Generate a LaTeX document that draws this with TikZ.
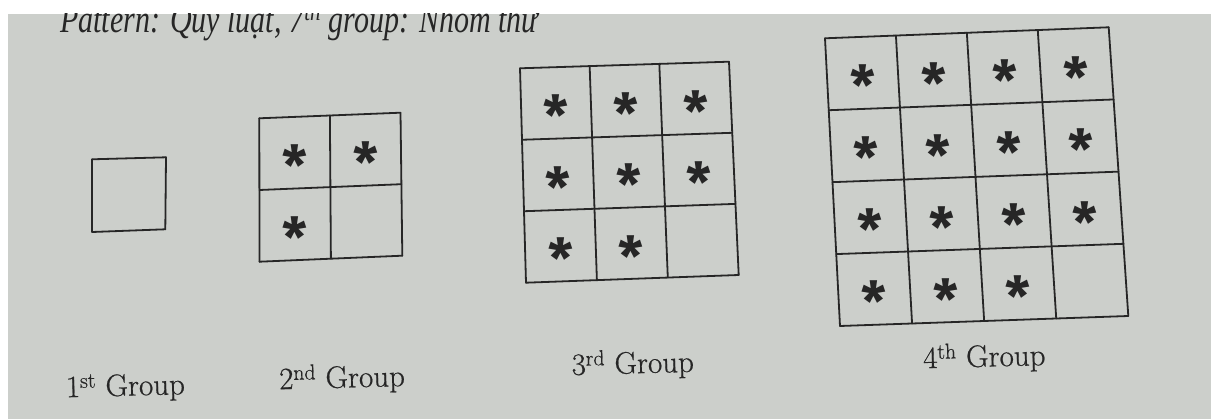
\documentclass[tikz,border=0pt]{standalone}
\usepackage{fontspec}
\usetikzlibrary{calc}
\definecolor{paper}{RGB}{204,207,203}
\definecolor{ink}{RGB}{38,38,38}
\newfontfamily\topfont{Liberation Serif}
\newfontfamily\astfont{Fira Sans}
\newfontfamily\lblfont{Latin Modern Roman}[FakeBold=0.6]
\newcommand\patterngrid[7]{%
  \coordinate (#1tl) at #3;
  \coordinate (#1tr) at #4;
  \coordinate (#1bl) at #5;
  \coordinate (#1br) at #6;
  \foreach \i in {0,...,#2}{
    \draw[gridline] ($(#1tl)!\i/#2!(#1tr)$) -- ($(#1bl)!\i/#2!(#1br)$);
    \draw[gridline] ($(#1tl)!\i/#2!(#1bl)$) -- ($(#1tr)!\i/#2!(#1br)$);
  }
  \foreach \r in {1,...,#2}{
    \foreach \c in {1,...,#2}{
      \pgfmathtruncatemacro\islast{and(\r==#2,\c==#2)}
      \ifnum\islast=0
        \pgfmathsetmacro\uu{(\c-0.5)/#2}
        \pgfmathsetmacro\vv{(\r-0.5)/#2}
        \coordinate (#1t) at ($(#1tl)!\uu!(#1tr)$);
        \coordinate (#1b) at ($(#1bl)!\uu!(#1br)$);
        \node[astnode, font={\fontsize{55}{55}\selectfont #7}] (#1s\r\c) at ($(#1t)!\vv!(#1b)$) {*};
      \fi
    }
  }
}
\begin{document}
\begin{tikzpicture}[x=1pt,y=-1pt,
  gridline/.style={draw=ink, line width=1.8pt, line cap=round},
  astnode/.style={inner sep=0pt, anchor=base, yshift=-33pt, text=ink},
  lbl/.style={anchor=base west, inner sep=0pt, text=ink, font=\lblfont\fontsize{31}{36}\selectfont, rotate=1.5}]
\useasboundingbox (0,0) rectangle (1211,419);
\fill[white] (0,0) rectangle (1211,419);
\fill[paper] (8,14) rectangle (1211,419);
\begin{scope}
  \clip (8,14) rectangle (1211,419);
  \node[anchor=base west, inner sep=0pt, text=ink, font={\topfont\itshape\fontsize{30}{36}\selectfont}] (toptext) at (60,32.5) {\scalebox{1}[1.3]{Pattern: Quy luật, 7\textsuperscript{th} group: Nhóm thứ}};
\end{scope}
\patterngrid{ga}{1}{(92.3,159.3)}{(166,157.3)}{(92.3,232)}{(165.3,229.3)}{\astfont\bfseries}
\patterngrid{gb}{2}{(259.3,118.3)}{(400.5,112.7)}{(259.5,261.7)}{(402.3,255.7)}{\astfont\bfseries}
\patterngrid{gc}{3}{(520,68.3)}{(729,61.7)}{(526,282.7)}{(738.7,275)}{\astfont\bfseries}
\patterngrid{gd}{4}{(825,38.3)}{(1108.7,27.3)}{(840,326)}{(1128.3,316)}{\astfont\bfseries}
\node[lbl] (l1) at (66,397.3) {1\textsuperscript{st} Group};
\node[lbl] (l2) at (279.3,389.3) {2\textsuperscript{nd} Group};
\node[lbl] (l3) at (571.7,375) {3\textsuperscript{rd} Group};
\node[lbl] (l4) at (923.3,368.3) {4\textsuperscript{th} Group};
\end{tikzpicture}
\end{document}
